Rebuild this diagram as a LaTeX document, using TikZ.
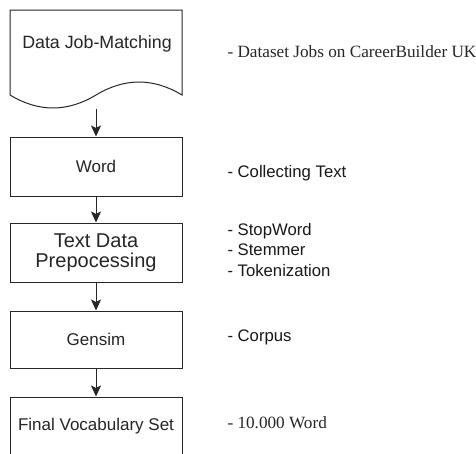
\documentclass[tikz,border=0pt]{standalone}
\usepackage{fontspec}
\setmainfont{Liberation Serif}
\newfontfamily\boxfont{Liberation Sans}
\usetikzlibrary{arrows.meta}
\begin{document}
\begin{tikzpicture}[x=1pt,y=-1pt,
  line width=1pt,
  stepbox/.style={draw=black!85, minimum width=172pt, inner sep=0pt,
    font=\boxfont\fontsize{17}{20}\selectfont, text=black!85},
  flow/.style={draw=black!85, -{Stealth[length=11pt,width=10pt,inset=2.5pt]}},
  notesans/.style={anchor=west, inner sep=0pt, align=left,
    font=\boxfont\fontsize{16.7}{20.5}\selectfont, text=black!90},
  noteserif/.style={anchor=west, inner sep=0pt,
    font=\fontsize{17.2}{20}\selectfont, text=black!85}]
  \useasboundingbox (0,0) rectangle (476,453);
  \fill[white] (0,0) rectangle (476,453);

  % document shape with wavy bottom edge
  \draw[black!85] (10,10) -- (182,10) -- (182,95)
    .. controls (153.3,77.7) and (124.7,77.7) .. (96,95)
    .. controls (67.3,112.3) and (38.7,112.3) .. (10,95) -- cycle;
  \node[inner sep=0pt, minimum width=172pt, minimum height=98pt] (doc) at (96,59) {};
  \node[font=\boxfont\fontsize{17.8}{20}\selectfont, text=black!85] (doclabel) at (97,44) {Data Job-Matching};

  % process steps
  \node[stepbox, minimum height=59pt] (word) at (96,166.5) {Word};
  \node[stepbox, minimum height=59pt, align=center,
        font=\boxfont\fontsize{20}{19.5}\selectfont] (prep) at (96,252.5) {Text Data\\Prepocessing};
  \node[stepbox, minimum height=57pt] (gensim) at (96,339.5) {Gensim};
  \node[stepbox, minimum height=58pt] (final) at (96,426) {Final Vocabulary Set};

  % connectors
  \draw[flow] (doc.south) -- (word.north);
  \draw[flow] (word.south) -- (prep.north);
  \draw[flow] (prep.south) -- (gensim.north);
  \draw[flow] (gensim.south) -- (final.north);

  % notes
  \node[noteserif] (n1) at (227,52) {- Dataset Jobs on CareerBuilder UK};
  \node[notesans] (n2) at (227,173) {- Collecting Text};
  \node[notesans] (n3) at (227,250) {- StopWord\\- Stemmer\\- Tokenization};
  \node[notesans] (n4) at (227,337) {- Corpus};
  \node[noteserif] (n5) at (227,423) {- 10.000 Word};
\end{tikzpicture}
\end{document}
